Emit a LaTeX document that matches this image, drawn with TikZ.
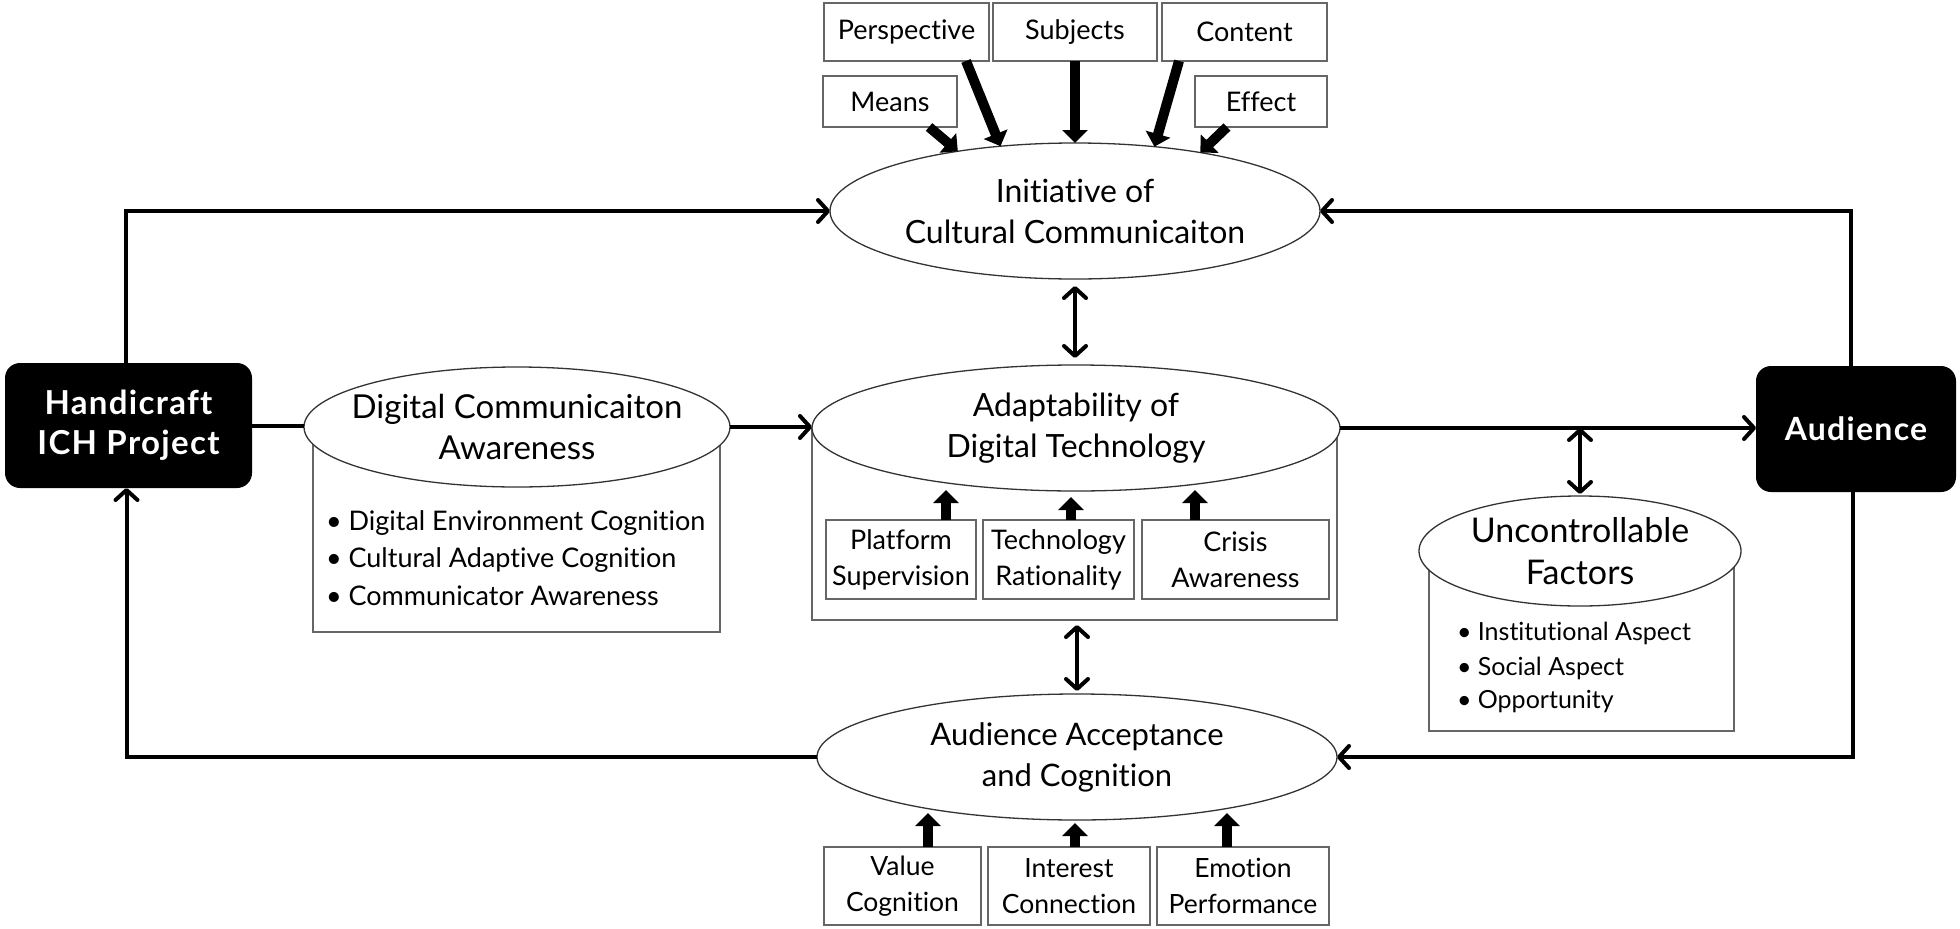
\documentclass[tikz,border=0pt]{standalone}
\usepackage{fontspec}
\setmainfont{Lato}[Ligatures={NoCommon,NoRare,NoDiscretionary}]
\usetikzlibrary{shapes.geometric,arrows.meta,calc}
\begin{document}
\begin{tikzpicture}[x=1pt,y=-1pt,
  every node/.style={font=\fontsize{32}{41}\selectfont, inner sep=0pt, outer sep=0pt},
  oval/.style={ellipse, draw=black!80, line width=1.3pt, fill=white, align=center, inner xsep=-60pt, inner ysep=-15pt},
  gbox/.style={rectangle, draw=black!60, line width=1.5pt, fill=white},
  smallbox/.style={gbox, align=center, font=\fontsize{27}{36}\selectfont},
  blackbox/.style={rectangle, rounded corners=15pt, fill=black, text=white, align=center, font=\fontsize{33}{40}\selectfont\bfseries\addfontfeature{LetterSpace=4}},
  conn/.style={line width=4pt, -{Straight Barb[length=10pt,width=22pt,round]}},
  plainconn/.style={line width=4pt},
  dconn/.style={line width=4pt, {Straight Barb[length=10pt,width=22pt,round]}-{Straight Barb[length=10pt,width=22pt,round]}},
  fat/.style={line width=10pt, -{Triangle[length=13pt,width=25pt]}},
  bul/.style={anchor=base west, font=\fontsize{27}{34}\selectfont},
  bulsmall/.style={anchor=base west, font=\fontsize{25}{34}\selectfont}
]
\useasboundingbox (0,0) rectangle (1960,929);

% top boxes
\node[smallbox, minimum width=165pt, minimum height=58pt] (persp) at (906.5,32) {Perspective};
\node[smallbox, minimum width=164pt, minimum height=58pt] (subj) at (1075,32) {Subjects};
\node[smallbox, minimum width=165pt, minimum height=58pt] (content) at (1244.5,32) {Content};
\node[smallbox, minimum width=134pt, minimum height=51pt] (means) at (890,101.5) {Means};
\node[smallbox, minimum width=132pt, minimum height=51pt] (effect) at (1261,101.5) {Effect};

% initiative
\node[oval, minimum width=490pt, minimum height=136pt] (init) at (1075,211) {Initiative of\\Cultural Communicaiton};

% fat arrows into initiative
\draw[fat] ([xshift=39pt]means.south) -- (init.153);
\draw[fat] ([xshift=59.5pt]persp.south) -- (init.139);
\draw[fat] (subj.south) -- (init.north);
\draw[fat] ([xshift=-65.5pt]content.south) -- (init.39);
\draw[fat] ([xshift=-34pt]effect.south) -- (init.25);

% digital communication awareness
\node[gbox, minimum width=407pt, minimum height=205pt] (digbox) at (516.5,529.5) {};
\node[oval, minimum width=426pt, minimum height=120pt, font=\fontsize{33}{41}\selectfont] (dig) at (517,427) {Digital Communicaiton\\Awareness};
\node[bul] (dig1) at (326,530) {• Digital Environment Cognition};
\node[bul] (dig2) at (326,567) {• Cultural Adaptive Cognition};
\node[bul] (dig3) at (326,605) {• Communicator Awareness};

% adaptability
\node[gbox, minimum width=525pt, minimum height=192pt] (adaptbox) at (1074.5,524) {};
\node[oval, minimum width=528pt, minimum height=126pt] (adapt) at (1076,428) {Adaptability of\\Digital Technology};
\node[smallbox, minimum width=150pt, minimum height=79pt] (plat) at (901,559.5) {Platform\\Supervision};
\node[smallbox, minimum width=151pt, minimum height=79pt] (tech) at (1058.5,559.5) {Technology\\Rationality};
\node[smallbox, minimum width=187pt, minimum height=79pt] (crisis) at (1235.5,559.5) {Crisis\\Awareness};
\draw[fat] ([xshift=45pt]plat.north) -- ++(0,-30);
\draw[fat] ([xshift=12.5pt]tech.north) -- ++(0,-23);
\draw[fat] ([xshift=-40.5pt]crisis.north) -- ++(0,-30);

% uncontrollable
\node[gbox, minimum width=305pt, minimum height=180pt] (uncbox) at (1581.5,641) {};
\node[oval, minimum width=322pt, minimum height=110pt, font=\fontsize{34}{42}\selectfont] (unc) at (1580,551) {Uncontrollable\\Factors};
\node[bulsmall] (unc1) at (1457,640) {• Institutional Aspect};
\node[bulsmall] (unc2) at (1457,675) {• Social Aspect};
\node[bulsmall] (unc3) at (1457,708) {• Opportunity};

% audience acceptance
\node[oval, minimum width=520pt, minimum height=126pt, font=\fontsize{31}{41}\selectfont] (accept) at (1077,757) {Audience Acceptance\\and Cognition};
\node[smallbox, minimum width=157pt, minimum height=78pt, font=\fontsize{26.5}{36}\selectfont] (value) at (902.5,886) {Value\\Cognition};
\node[smallbox, minimum width=162pt, minimum height=78pt, font=\fontsize{26.5}{36}\selectfont] (interest) at (1069,886) {Interest\\Connection};
\node[smallbox, minimum width=172pt, minimum height=78pt, font=\fontsize{26.5}{36}\selectfont] (emotion) at (1243,886) {Emotion\\Performance};
\draw[fat] ([xshift=25.5pt]value.north) -- ++(0,-34);
\draw[fat] ([xshift=6pt]interest.north) -- ++(0,-24);
\draw[fat] ([xshift=-16pt]emotion.north) -- ++(0,-34);

% black boxes
\node[blackbox, minimum width=247pt, minimum height=125pt] (hc) at (128.5,425.5) {Handicraft\\ICH Project};
\node[blackbox, minimum width=200pt, minimum height=126pt, font=\fontsize{32}{40}\selectfont\bfseries\addfontfeature{LetterSpace=4}] (aud) at (1856,429) {Audience};

% connectors
\draw[conn] ([xshift=-3pt]hc.north) |- (init.west);
\draw[plainconn] (hc.east) -- (hc.east -| dig.west);
\draw[conn] (dig.east) -- (dig.east -| adapt.west);
\draw[conn] (adapt.east) -- (adapt.east -| aud.west);
\draw[conn] ([xshift=-5pt]aud.north) |- (init.east);
\draw[conn] ([xshift=-3pt]aud.south) |- (accept.east);
\draw[conn] (accept.west) -| ([xshift=-2pt]hc.south);
\draw[dconn, shorten <=7pt, shorten >=7pt] (init.south) -- (init.south |- adapt.north);
\draw[dconn, shorten <=5pt, shorten >=3pt] (adaptbox.south -| accept.north) -- (accept.north);
\draw[dconn, shorten >=2pt] (adapt.east -| unc.north) -- (unc.north);
\end{tikzpicture}
\end{document}
